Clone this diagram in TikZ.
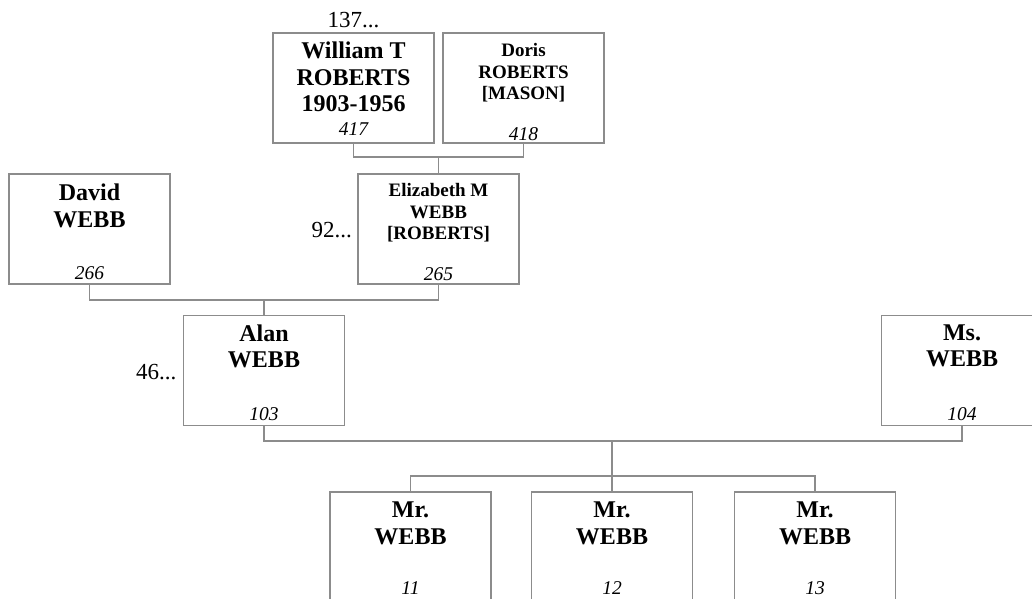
\documentclass[tikz,border=0pt]{standalone}
\usepackage{fontspec}
\setmainfont{Liberation Serif}
\usetikzlibrary{calc}
\definecolor{boxgray}{RGB}{140,140,140}
\tikzset{
  person/.style={draw=boxgray, line width=1.2pt, minimum width=161pt, minimum height=110pt, inner sep=0pt, outer sep=0pt, fill=white},
  bigname/.style={anchor=north, inner sep=0pt, align=center, font=\fontsize{24}{26.5}\selectfont\bfseries},
  smallname/.style={anchor=north, inner sep=0pt, align=center, font=\fontsize{19}{21.5}\selectfont\bfseries},
  idnum/.style={anchor=base, inner sep=0pt, font=\fontsize{19.5}{21}\selectfont\itshape},
  more/.style={inner sep=0pt, font=\fontsize{23}{25}\selectfont},
  link/.style={draw=boxgray, line width=1.2pt}
}
\begin{document}
\begin{tikzpicture}[x=1pt, y=-1pt]
\useasboundingbox (0,0) rectangle (1032,598);
\clip (0,0) rectangle (1032,598);

% boxes
\node[person] (w)  at (353.5,88) {};
\node[person] (d)  at (523.5,88) {};
\node[person] (e)  at (438.5,229) {};
\node[person] (dv) at (89.5,229) {};
\node[person] (a)  at (264,370.5) {};
\node[person] (ms) at (962,370.5) {};
\node[person] (m1) at (410.5,547) {};
\node[person] (m2) at (612,547) {};
\node[person] (m3) at (815,547) {};

% names
\node[bigname] (wn) at ([yshift=-9pt]w.north) {William T\\ROBERTS\\1903-1956};
\node[smallname] (dn) at ([yshift=-10.5pt]d.north) {Doris\\ROBERTS\\{[MASON]}};
\node[smallname] (en) at ([yshift=-9.5pt]e.north) {Elizabeth M\\WEBB\\{[ROBERTS]}};
\node[bigname] (dvn) at ([yshift=-10pt]dv.north) {David\\WEBB};
\node[bigname] (an) at ([yshift=-9pt]a.north) {Alan\\WEBB};
\node[bigname] (msn) at ([yshift=-9pt]ms.north) {Ms.\\WEBB};
\node[bigname] (m1n) at ([yshift=-10pt]m1.north) {Mr.\\WEBB};
\node[bigname] (m2n) at ([yshift=-10pt]m2.north) {Mr.\\WEBB};
\node[bigname] (m3n) at ([yshift=-10pt]m3.north) {Mr.\\WEBB};

% numbers
\node[idnum] (wi)  at ([yshift=8pt]w.south) {417};
\node[idnum] (di)  at ([yshift=2.5pt]d.south) {418};
\node[idnum] (ei)  at ([yshift=4pt]e.south) {265};
\node[idnum] (dvi) at ([yshift=5pt]dv.south) {266};
\node[idnum] (ai)  at ([yshift=5pt]a.south) {103};
\node[idnum] (msi) at ([yshift=5pt]ms.south) {104};
\node[idnum] (m1i) at ([yshift=8pt]m1.south) {11};
\node[idnum] (m2i) at ([yshift=8pt]m2.south) {12};
\node[idnum] (m3i) at ([yshift=8pt]m3.south) {13};

% ancestor markers
\node[more, anchor=south] (wm) at ([yshift=4.5pt]w.north) {137...};
\node[more, anchor=east] (em) at ([xshift=-6pt,yshift=-1pt]e.west) {92...};
\node[more, anchor=east] (am) at ([xshift=-7pt,yshift=-1.5pt]a.west) {46...};

% junctions
\coordinate (j1) at (e.north |- 0,157);
\coordinate (j2) at (a.north |- 0,300);
\coordinate (j3) at (m2.north |- 0,441);
\coordinate (j4) at (m2.north |- 0,476);

% connectors
\draw[link] (w.south) |- (j1) -| (d.south);
\draw[link] (j1) -- (e.north);
\draw[link] (dv.south) |- (j2) -| (e.south);
\draw[link] (j2) -- (a.north);
\draw[link] (a.south) |- (j3) -| (ms.south);
\draw[link] (j3) -- (j4);
\draw[link] (j4) -| (m1.north);
\draw[link] (j4) -| (m3.north);
\draw[link] (j4) -- (m2.north);
\end{tikzpicture}
\end{document}
